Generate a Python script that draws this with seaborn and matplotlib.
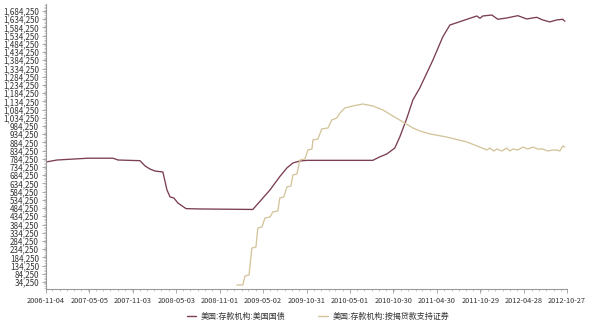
import matplotlib
matplotlib.use("Agg")
import matplotlib.pyplot as plt
import matplotlib.dates as mdates
import matplotlib.ticker as mticker
import seaborn as sns
import pandas as pd

# Series 1: US depository institutions - US Treasuries
treasury_dates = [
    "2006-11-04", "2006-12-20", "2007-04-29", "2007-08-12", "2007-09-02", "2007-12-03",
    "2007-12-24", "2008-01-14", "2008-02-04", "2008-03-08", "2008-03-25", "2008-04-07",
    "2008-04-23", "2008-05-10", "2008-06-13", "2008-08-10", "2009-03-20", "2009-05-31",
    "2009-07-11", "2009-08-10", "2009-09-04", "2009-10-03", "2009-11-02", "2010-08-05",
    "2010-09-03", "2010-10-03", "2010-11-05", "2010-11-26", "2010-12-26", "2011-01-20",
    "2011-02-18", "2011-04-14", "2011-05-25", "2011-06-24", "2011-07-23", "2011-09-16",
    "2011-10-15", "2011-10-28", "2011-11-09", "2011-12-17", "2012-01-11", "2012-02-18",
    "2012-04-04", "2012-05-11", "2012-06-22", "2012-07-17", "2012-08-16", "2012-09-14",
    "2012-10-09", "2012-10-18",
]
treasury_values = [
    765000, 777000, 788000, 788000, 777000, 773000,
    741000, 722000, 710000, 704000, 595000, 552000,
    546000, 515000, 481000, 479000, 476000, 595000,
    676000, 729000, 759000, 771000, 775000, 775000,
    796000, 814000, 850000, 917000, 1033000, 1143000,
    1216000, 1386000, 1526000, 1599000, 1613000, 1640000,
    1654000, 1640000, 1654000, 1660000, 1634000, 1642000,
    1656000, 1636000, 1646000, 1630000, 1618000, 1630000,
    1634000, 1622000,
]

# Series 2: US depository institutions - MBS
mbs_dates = [
    "2009-01-12", "2009-02-06", "2009-02-15", "2009-03-04", "2009-03-16", "2009-04-02",
    "2009-04-10", "2009-04-27", "2009-05-10", "2009-05-31", "2009-06-12", "2009-07-03",
    "2009-07-11", "2009-07-28", "2009-08-10", "2009-08-27", "2009-09-04", "2009-09-21",
    "2009-10-03", "2009-10-24", "2009-11-06", "2009-11-23", "2009-11-27", "2009-12-18",
    "2010-01-03", "2010-01-29", "2010-02-14", "2010-03-07", "2010-03-20", "2010-04-10",
    "2010-05-13", "2010-06-24", "2010-08-05", "2010-09-16", "2010-10-28", "2010-12-09",
    "2011-01-20", "2011-02-18", "2011-04-01", "2011-06-11", "2011-09-03", "2011-10-27",
    "2011-11-26", "2011-12-08", "2011-12-25", "2012-01-07", "2012-01-28", "2012-02-18",
    "2012-03-01", "2012-03-14", "2012-04-04", "2012-04-25", "2012-05-16", "2012-06-06",
    "2012-06-26", "2012-07-17", "2012-08-07", "2012-08-28", "2012-09-14", "2012-09-27",
    "2012-10-09", "2012-10-18",
]
mbs_values = [
    16000, 16000, 71000, 77000, 241000, 247000,
    363000, 369000, 424000, 430000, 461000, 467000,
    546000, 552000, 613000, 619000, 686000, 692000,
    777000, 783000, 838000, 844000, 899000, 905000,
    966000, 972000, 1021000, 1033000, 1063000, 1094000,
    1106000, 1118000, 1106000, 1082000, 1045000, 1009000,
    972000, 954000, 936000, 917000, 887000, 856000,
    838000, 850000, 832000, 844000, 832000, 850000,
    832000, 844000, 838000, 856000, 844000, 856000,
    844000, 844000, 832000, 838000, 838000, 832000,
    862000, 856000,
]

series_labels = ["美国:存款机构:美国国债", "美国:存款机构:按揭贷款支持证券"]
tick_dates = ["2006-11-04", "2007-05-05", "2007-11-03", "2008-05-03", "2008-11-01",
              "2009-05-02", "2009-10-31", "2010-05-01", "2010-10-30", "2011-04-30",
              "2011-10-29", "2012-04-28", "2012-10-27"]
y_ticks = list(range(34250, 1684251, 50000))

sns.set_theme(style="white")
plt.rcParams["font.family"] = ["Noto Sans CJK SC", "DejaVu Sans"]

df = pd.concat([
    pd.DataFrame({"date": pd.to_datetime(treasury_dates), "value": treasury_values,
                  "series": series_labels[0]}),
    pd.DataFrame({"date": pd.to_datetime(mbs_dates), "value": mbs_values,
                  "series": series_labels[1]}),
], ignore_index=True)

fig = plt.figure(figsize=(5.96, 3.30), dpi=100)
ax = fig.add_axes([46 / 596, 1 - 289 / 330, (567 - 46) / 596, (289 - 4) / 330])

palette = {series_labels[0]: "#7a3e4e", series_labels[1]: "#d2c49b"}
sns.lineplot(data=df, x="date", y="value", hue="series", palette=palette,
             linewidth=0.95, ax=ax, legend=False, estimator=None, sort=False)

ax.set_xlim(pd.Timestamp("2006-11-04"), pd.Timestamp("2012-10-27"))
ax.set_ylim(-8400, 1727000)

ax.set_xticks(pd.to_datetime(tick_dates))
ax.set_xticklabels(tick_dates)
ax.xaxis.set_minor_locator(mdates.MonthLocator())
ax.set_yticks(y_ticks)
ax.yaxis.set_major_formatter(mticker.FuncFormatter(lambda v, p: f"{int(round(v)):,}"))
ax.yaxis.set_minor_locator(mticker.MultipleLocator(10000))

ax.set_xlabel("")
ax.set_ylabel("")
for s in ["top", "right"]:
    ax.spines[s].set_visible(False)
for s in ["left", "bottom"]:
    ax.spines[s].set_color("#9a9a9a")
    ax.spines[s].set_linewidth(0.8)

ax.tick_params(axis="both", which="major", length=3, width=0.6, color="#9a9a9a",
               labelsize=5.8, labelcolor="#333333", pad=2, left=True, bottom=True)
ax.tick_params(axis="both", which="minor", length=1.5, width=0.5, color="#b0b0b0",
               left=True, bottom=True)
ax.tick_params(axis="x", labelsize=5.3, pad=3)

handles = [plt.Line2D([], [], color=palette[l], linewidth=1.0) for l in series_labels]
fig.legend(handles, series_labels, loc="center", bbox_to_anchor=(318 / 596, 1 - 316 / 330),
           ncol=2, frameon=False, fontsize=5.8, handlelength=1.2, handletextpad=0.6,
           columnspacing=4.0, labelcolor="#333333")

fig.savefig("out.png", dpi=100, facecolor="white")
